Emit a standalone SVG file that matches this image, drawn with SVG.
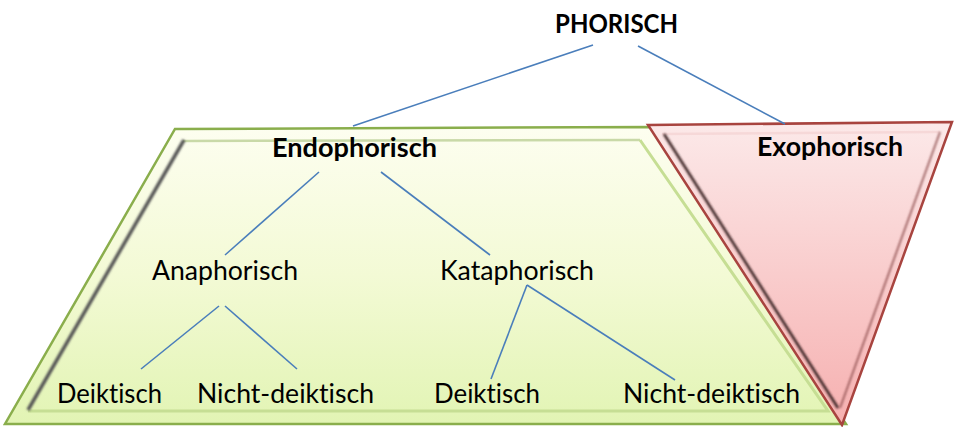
<svg xmlns="http://www.w3.org/2000/svg" width="954" height="427" viewBox="0 0 954 427">
<defs>
<linearGradient id="gGreen" x1="0" y1="0" x2="0" y2="1">
<stop offset="0" stop-color="#fdfef0"/>
<stop offset="0.5" stop-color="#f3fad5"/>
<stop offset="1" stop-color="#e2f4b4"/>
</linearGradient>
<linearGradient id="gRed" x1="0" y1="0" x2="0" y2="1">
<stop offset="0" stop-color="#fce9e9"/>
<stop offset="1" stop-color="#f6b0b0"/>
</linearGradient>
<filter id="blur" x="-10%" y="-10%" width="120%" height="120%"><feGaussianBlur stdDeviation="1"/></filter>
<style>
.lbl{font-family:Lato,"Liberation Sans",sans-serif;font-size:26px;fill:#000;text-anchor:middle;font-variant-ligatures:none;font-feature-settings:"liga" 0,"clig" 0,"dlig" 0}
.b{font-weight:bold}
.con line{stroke:#4a7ebb;stroke-width:1.6;fill:none}
</style>
</defs>
<g id="endo-shape">
<polygon points="175,129 652,127 846,424 5,424" fill="url(#gGreen)" stroke="#8aae4c" stroke-width="2.5"/>
<polyline points="183,141 640,140" fill="none" stroke="#c9d9a8" stroke-width="2.5"/>
<polyline points="640,140 828,411 28,411" fill="none" stroke="#c6de94" stroke-width="3"/>
<line x1="184" y1="140" x2="28" y2="410" stroke="#555" stroke-width="3.5" filter="url(#blur)"/>
</g>
<g id="exo-shape">
<polygon points="648,125 952,122 842,425" fill="url(#gRed)" stroke="#a8443f" stroke-width="2.5"/>
<line x1="662" y1="134" x2="940" y2="132" stroke="#f6d8d8" stroke-width="2.5"/>
<line x1="664" y1="134" x2="838" y2="408" stroke="#3a2222" stroke-width="2.5" filter="url(#blur)"/>
<line x1="940" y1="132" x2="840" y2="408" stroke="#8a4a4a" stroke-width="1.5" filter="url(#blur)"/>
</g>
<g class="con" id="connectors">
<line x1="593" y1="45" x2="353" y2="126"/>
<line x1="638" y1="46" x2="785" y2="124"/>
<line x1="319" y1="172" x2="225" y2="255"/>
<line x1="381" y1="172" x2="490" y2="255"/>
<line x1="219" y1="306" x2="141" y2="369"/>
<line x1="225" y1="306" x2="297" y2="369"/>
<line x1="527" y1="285" x2="491" y2="379"/>
<line x1="527" y1="285" x2="675" y2="380"/>
</g>
<g id="phorisch"><text class="lbl b" x="616.5" y="33" textLength="123" lengthAdjust="spacingAndGlyphs">PHORISCH</text></g>
<g id="endophorisch"><text class="lbl b" x="354.5" y="157" textLength="165" lengthAdjust="spacingAndGlyphs">Endophorisch</text></g>
<g id="exophorisch"><text class="lbl b" x="830" y="156" textLength="146" lengthAdjust="spacingAndGlyphs">Exophorisch</text></g>
<g id="anaphorisch"><text class="lbl" x="225" y="280" textLength="146" lengthAdjust="spacingAndGlyphs">Anaphorisch</text></g>
<g id="kataphorisch"><text class="lbl" x="517" y="280" textLength="154" lengthAdjust="spacingAndGlyphs">Kataphorisch</text></g>
<g id="deiktisch1"><text class="lbl" x="109.5" y="403" textLength="105" lengthAdjust="spacingAndGlyphs">Deiktisch</text></g>
<g id="nichtdeiktisch1"><text class="lbl" x="285.5" y="403" textLength="177" lengthAdjust="spacingAndGlyphs">Nicht-deiktisch</text></g>
<g id="deiktisch2"><text class="lbl" x="487" y="403" textLength="106" lengthAdjust="spacingAndGlyphs">Deiktisch</text></g>
<g id="nichtdeiktisch2"><text class="lbl" x="711.5" y="403" textLength="177" lengthAdjust="spacingAndGlyphs">Nicht-deiktisch</text></g>
</svg>
